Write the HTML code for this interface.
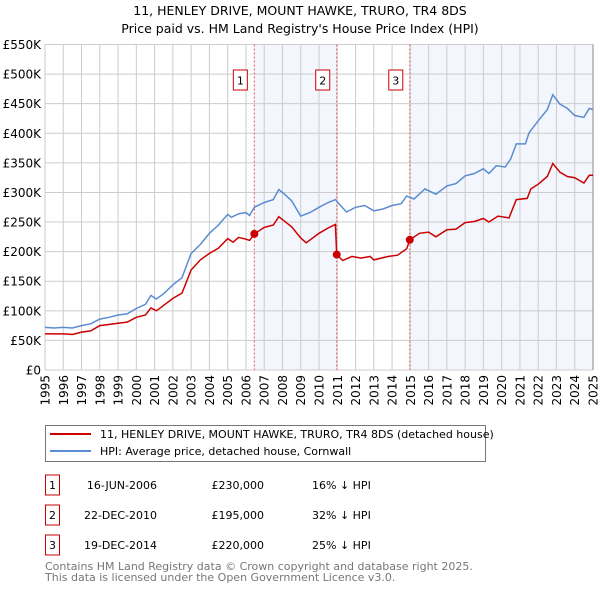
<!DOCTYPE html>
<html><head><meta charset="utf-8"><style>
body{margin:0;background:#fff;width:600px;height:590px;overflow:hidden;font-family:"DejaVu Sans","Liberation Sans",sans-serif;}
svg text{font-family:"DejaVu Sans","Liberation Sans",sans-serif;}
</style></head><body>
<svg id="chart" width="600" height="590" xmlns="http://www.w3.org/2000/svg">
<text x="300" y="15" text-anchor="middle" font-size="12.5" fill="#000">11, HENLEY DRIVE, MOUNT HAWKE, TRURO, TR4 8DS</text>
<text x="300" y="33" text-anchor="middle" font-size="12.5" fill="#000">Price paid vs. HM Land Registry's House Price Index (HPI)</text>
<g id="plot"></g>
<g>
<rect x="45.5" y="425.5" width="440" height="36" fill="#fff" stroke="#777"/>
<line x1="50" y1="434" x2="91" y2="434" stroke="#cc0000" stroke-width="2"/>
<text x="100" y="438" font-size="11" fill="#000">11, HENLEY DRIVE, MOUNT HAWKE, TRURO, TR4 8DS (detached house)</text>
<line x1="50" y1="451" x2="91" y2="451" stroke="#5b8bd0" stroke-width="2"/>
<text x="100" y="455" font-size="11" fill="#000">HPI: Average price, detached house, Cornwall</text>
</g>
<g id="table"></g>
<text x="45" y="570" font-size="11" fill="#777">Contains HM Land Registry data © Crown copyright and database right 2025.</text>
<text x="45" y="581" font-size="11" fill="#777">This data is licensed under the Open Government Licence v3.0.</text>
</svg>
<script>
const hpiYears=[1995,1995.5,1996,1996.5,1997,1997.5,1998,1998.5,1999,1999.5,2000,2000.5,2000.8,2001.1,2001.5,2002,2002.5,2003,2003.5,2004,2004.5,2005,2005.2,2005.6,2006,2006.2,2006.46,2007,2007.5,2007.8,2008,2008.5,2009,2009.5,2010,2010.5,2010.9,2011.5,2012,2012.5,2013,2013.5,2014,2014.5,2014.8,2015.2,2015.8,2016.4,2017,2017.5,2018,2018.5,2019,2019.3,2019.7,2020.2,2020.5,2020.8,2021.3,2021.5,2022,2022.5,2022.8,2023.2,2023.6,2024,2024.5,2024.8,2025];
const hpiValues=[72,71,72,71,75,78,86,89,93,95,104,111,126,120,129,144,156,197,212,231,245,263,258,264,266,261,275,283,288,305,300,286,260,266,275,283,288,267,275,278,269,272,278,281,294,289,306,297,311,315,328,332,340,332,345,343,357,382,382,401,421,440,465,449,442,430,427,442,440];
const redYears=[1995,1996,1996.5,1997,1997.5,1998,1999,1999.5,2000,2000.5,2000.8,2001.1,2002,2002.5,2003,2003.5,2004,2004.5,2005,2005.3,2005.6,2006,2006.2,2006.46,2007,2007.5,2007.8,2008.5,2009,2009.3,2010,2010.5,2010.9,2010.97,2011.3,2011.8,2012.3,2012.8,2013,2013.8,2014.3,2014.8,2014.97,2015.5,2016,2016.4,2017,2017.5,2018,2018.5,2019,2019.3,2019.8,2020.4,2020.8,2021.4,2021.6,2022,2022.5,2022.8,2023.2,2023.6,2024,2024.5,2024.8,2025];
const redValues=[61,61,60,64,66,75,79,81,89,93,105,100,121,130,169,186,197,206,222,216,224,221,219,230,241,245,259,242,223,215,231,240,246,195,185,192,189,192,186,192,194,205,220,231,233,225,237,238,249,251,256,250,260,257,288,290,306,314,327,349,334,327,325,316,329,329];
const saleYears=[2006.46,2010.97,2014.97];
const saleValues=[230,195,220];
const saleLabels=["1","2","3"];
const saleDates=["16-JUN-2006","22-DEC-2010","19-DEC-2014"];
const salePrices=["£230,000","£195,000","£220,000"];
const saleDiffs=["16% ↓ HPI","32% ↓ HPI","25% ↓ HPI"];
const yTicks=[0,50,100,150,200,250,300,350,400,450,500,550];
const yTickLabels=["£0","£50K","£100K","£150K","£200K","£250K","£300K","£350K","£400K","£450K","£500K","£550K"];
const xTicks=[1995,1996,1997,1998,1999,2000,2001,2002,2003,2004,2005,2006,2007,2008,2009,2010,2011,2012,2013,2014,2015,2016,2017,2018,2019,2020,2021,2022,2023,2024,2025];

const X0=45,X1=593,Y0=370,Y1=44.5;
const xs=y=>X0+(y-1995)/30*(X1-X0);
const ys=v=>Y0-v/550*(Y0-Y1);
const NS="http://www.w3.org/2000/svg";
const plot=document.getElementById('plot');
function mk(tag,attrs,parent,text){const e=document.createElementNS(NS,tag);for(const k in attrs)e.setAttribute(k,attrs[k]);if(text!==undefined)e.textContent=text;parent.appendChild(e);return e;}

let e;
e=mk('rect',{x:xs(saleYears[0]),y:Y1,width:xs(saleYears[1])-xs(saleYears[0]),height:Y0-Y1,fill:'#eef2fc',opacity:0.7},plot);


e=mk('rect',{x:xs(saleYears[2]),y:Y1,width:X1-xs(saleYears[2]),height:Y0-Y1,fill:'#eef2fc',opacity:0.7},plot);



yTicks.forEach((t,i)=>{
 e=mk('line',{x1:X0,x2:X1,y1:ys(t),y2:ys(t),stroke:'#cccccc','stroke-width':1},plot);
 
 
 e=mk('text',{x:41,y:ys(t)+4.5,'text-anchor':'end','font-size':12,fill:'#000'},plot,yTickLabels[i]);
 
 
});
xTicks.forEach(t=>{
 e=mk('line',{x1:xs(t),x2:xs(t),y1:Y1,y2:Y0,stroke:'#cccccc','stroke-width':1},plot);
 
 
 e=mk('text',{x:0,y:0,'text-anchor':'end','font-size':12,fill:'#000',transform:`translate(${xs(t)+4.5},375) rotate(-90)`},plot,String(t));
 
 
});
e=mk('line',{x1:X1,x2:X1,y1:Y1,y2:Y0,stroke:'#888','stroke-width':1},plot);



saleYears.forEach((s,i)=>{
 e=mk('line',{x1:xs(s),x2:xs(s),y1:Y1,y2:Y0,stroke:'#ee5555','stroke-width':1,'stroke-dasharray':'2,2'},plot);
 
 
 const g=mk('g',{},plot);
 
 
 mk('rect',{x:xs(s)-21,y:70,width:14,height:20,fill:'#fff',stroke:'#cc0000'},g);
 mk('text',{x:xs(s)-14,y:84.5,'text-anchor':'middle','font-size':11,fill:'#000'},g,saleLabels[i]);
});

function pathOf(xa,va){return xa.map((y,i)=>(i?'L':'M')+xs(y).toFixed(1)+','+ys(va[i]).toFixed(1)).join('');}
e=mk('path',{d:pathOf(hpiYears,hpiValues),fill:'none',stroke:'#5b8bd0','stroke-width':1.5},plot);


e=mk('path',{d:pathOf(redYears,redValues),fill:'none',stroke:'#cc0000','stroke-width':1.5},plot);


saleYears.forEach((s,i)=>{
 e=mk('circle',{cx:xs(s),cy:ys(saleValues[i]),r:4,fill:'#cc0000'},plot);
 
 
});

const table=document.getElementById('table');
saleLabels.forEach((l,i)=>{
 const cy=485+i*30;
 const g=mk('g',{},table);
 
 
 mk('rect',{x:45.5,y:cy-10,width:14,height:20,fill:'#fff',stroke:'#cc0000'},g);
 mk('text',{x:52.5,y:cy+4,'text-anchor':'middle','font-size':11,fill:'#000'},g,l);
 mk('text',{x:157,y:cy+4,'text-anchor':'end','font-size':11,fill:'#000'},g,saleDates[i]);
 mk('text',{x:264,y:cy+4,'text-anchor':'end','font-size':11,fill:'#000'},g,salePrices[i]);
 mk('text',{x:312,y:cy+4,'font-size':11,fill:'#000'},g,saleDiffs[i]);
});
</script>
</body></html>
